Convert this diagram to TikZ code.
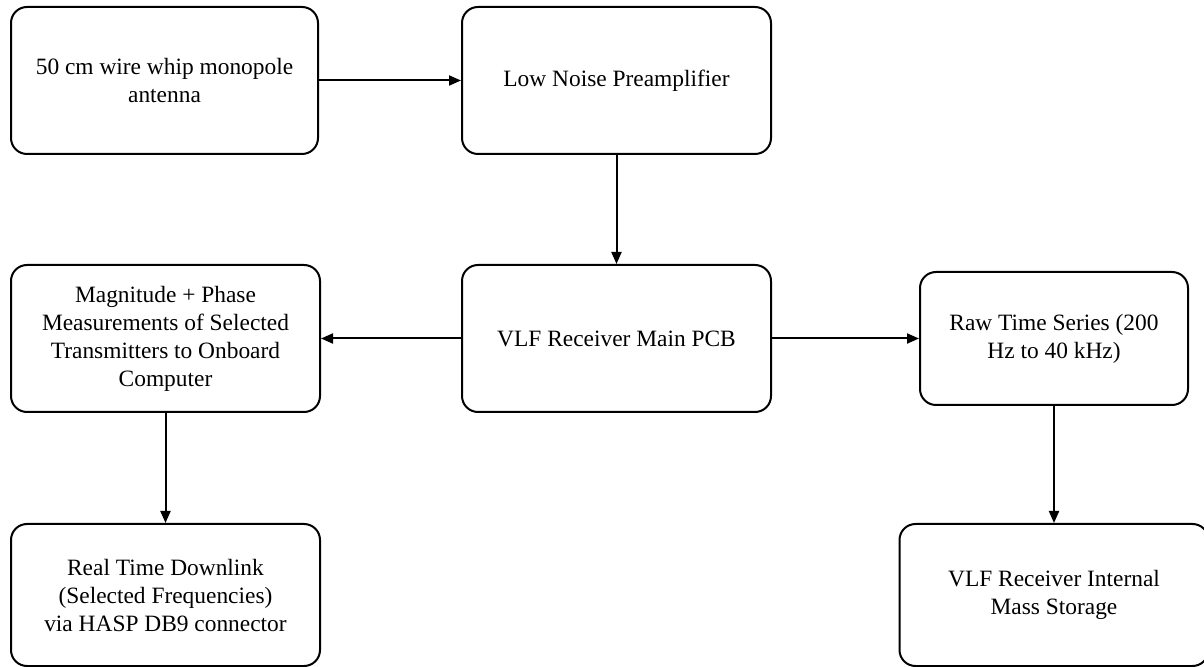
\documentclass[tikz,border=0pt]{standalone}
\usepackage{fontspec}
\setmainfont{Liberation Serif}
\usetikzlibrary{arrows.meta}

\begin{document}
\begin{tikzpicture}[
  x=0.5pt, y=-0.5pt,
  block/.style={draw, line width=1pt, rounded corners=8pt, align=center, inner sep=0pt,
    minimum width=154.5pt, minimum height=73.5pt, font=\fontsize{11.7}{14}\selectfont},
  small_block/.style={block, minimum width=134pt, minimum height=66.5pt},
  low_block/.style={block, minimum height=71pt},
  link/.style={line width=1pt, -{Triangle[length=6pt, width=5pt]}},
]
\useasboundingbox (0,0) rectangle (1204,667);
\draw (164.5,80.5) node (ant) [block, minimum width=153.5pt] {50 cm wire whip monopole\\antenna};
\draw (616.5,80.5) node (pre) [block] {Low Noise Preamplifier};
\draw (616.5,338.5) node (pcb) [block] {VLF Receiver Main PCB};
\draw (165.5,338.5) node (mag) [block] {Magnitude + Phase\\Measurements of Selected\\Transmitters to Onboard\\Computer};
\draw (1054,338.5) node (raw) [small_block] {Raw Time Series (200\\Hz to 40 kHz)};
\draw (165.5,595) node (down) [low_block] {Real Time Downlink\\(Selected Frequencies)\\via HASP DB9 connector};
\draw (1054,595) node (store) [low_block] {VLF Receiver Internal\\Mass Storage};
\draw [link] (ant) -- (pre);
\draw [link] (pre) -- (pcb);
\draw [link] (pcb) -- (mag);
\draw [link] (pcb) -- (raw);
\draw [link] (mag) -- (down);
\draw [link] (raw) -- (store);
\end{tikzpicture}
\end{document}
